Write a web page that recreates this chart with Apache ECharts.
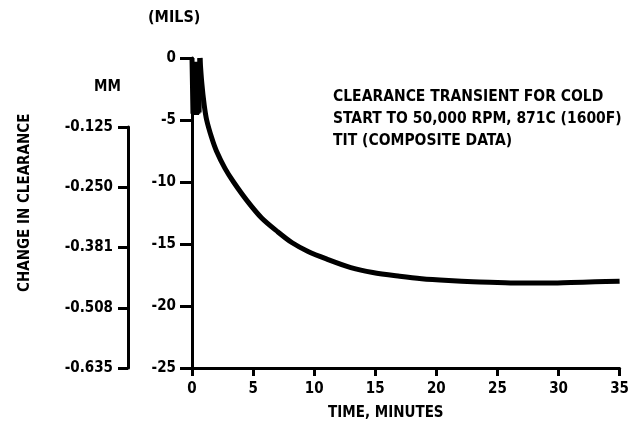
<!DOCTYPE html>
<html>
<head>
<meta charset="utf-8">
<script src="https://cdn.jsdelivr.net/npm/echarts@6/dist/echarts.min.js"></script>
<style>
  html, body { margin: 0; padding: 0; background: #fff; }
  #chart { width: 632px; height: 429px; }
</style>
</head>
<body>
<div id="chart"></div>
<script>
// startup oscillation (first ~0.65 min), mils
const spikeTime = [0, 0.08, 0.12, 0.18, 0.22, 0.28, 0.32, 0.38, 0.42, 0.48, 0.52, 0.58, 0.62, 0.65];
const spikeMils = [0, -4.5, -0.3, -4.6, -0.5, -4.6, -0.4, -4.6, -0.3, -4.5, -0.5, -4.4, -1.0, 0];

// transient after startup
const transientTime = [0.65, 0.8, 1.0, 1.2, 1.6, 2.0, 2.7, 3.4, 4.5, 5.7, 7, 8.2, 9.5, 11, 13, 14.8, 17, 18.8, 21, 23, 25, 27, 29, 31, 33, 35];
const transientMils = [0, -2, -3.8, -5, -6.4, -7.5, -8.9, -10, -11.5, -12.9, -14.0, -14.9, -15.6, -16.2, -16.9, -17.3, -17.6, -17.8, -17.95, -18.05, -18.1, -18.15, -18.15, -18.1, -18.05, -18.0];

const mmLabels = ['-0.635', '-0.508', '-0.381', '-0.250', '-0.125'];
const noteLines = ['CLEARANCE TRANSIENT FOR COLD', 'START TO 50,000 RPM, 871C (1600F)', 'TIT (COMPOSITE DATA)'];

const FONT = '"DejaVu Sans Condensed", "DejaVu Sans", sans-serif';
const lbl = { color: '#000', fontFamily: FONT, fontWeight: 'bold', fontSize: 15 };
const axisLine = { show: true, onZero: false, lineStyle: { color: '#000', width: 3 } };

const chart = echarts.init(document.getElementById('chart'));

chart.setOption({
  backgroundColor: '#fff',
  animation: false,
  grid: [
    { left: 192, right: 10, top: 58, bottom: 61 },
    { left: 128, width: 1, top: 127, bottom: 61 }
  ],
  xAxis: [
    {
      gridIndex: 0, type: 'value', min: 0, max: 35, interval: 5,
      axisLine: axisLine,
      axisTick: { show: true, length: 8, lineStyle: { color: '#000', width: 3 } },
      axisLabel: Object.assign({ margin: 14 }, lbl),
      splitLine: { show: false },
      name: 'TIME, MINUTES', nameLocation: 'middle', nameGap: 38,
      nameTextStyle: Object.assign({ padding: [0, 40, 0, 0] }, lbl)
    },
    { gridIndex: 1, type: 'value', show: false }
  ],
  yAxis: [
    {
      gridIndex: 0, type: 'value', min: -25, max: 0, interval: 5,
      axisLine: axisLine,
      axisTick: { show: true, length: 12, lineStyle: { color: '#000', width: 3 } },
      axisLabel: Object.assign({ margin: 16 }, lbl),
      splitLine: { show: false }
    },
    {
      gridIndex: 1, type: 'category', data: mmLabels, boundaryGap: false,
      axisLine: axisLine,
      axisTick: { show: true, length: 10, lineStyle: { color: '#000', width: 3 } },
      axisLabel: Object.assign({ margin: 15 }, lbl),
      splitLine: { show: false }
    }
  ],
  graphic: [
    { type: 'text', left: 148, top: 10, style: Object.assign({ text: '(MILS)' }, lbl, { fontSize: 16 }) },
    { type: 'text', left: 94, top: 80, style: Object.assign({ text: 'MM' }, lbl) },
    {
      type: 'text', x: 18, y: 292, rotation: Math.PI / 2,
      style: Object.assign({ text: 'CHANGE IN CLEARANCE' }, lbl)
    },
    {
      type: 'text', left: 333, top: 86,
      style: Object.assign({ text: noteLines.join('\n'), lineHeight: 22 }, lbl, { fontSize: 15.5 })
    }
  ],
  series: [
    {
      type: 'line', xAxisIndex: 0, yAxisIndex: 0, showSymbol: false,
      lineStyle: { color: '#000', width: 5 },
      data: spikeTime.map((t, i) => [t, spikeMils[i]])
    },
    {
      type: 'line', xAxisIndex: 0, yAxisIndex: 0, showSymbol: false, smooth: 0.3,
      lineStyle: { color: '#000', width: 5 },
      data: transientTime.map((t, i) => [t, transientMils[i]])
    }
  ]
});
</script>
</body>
</html>
